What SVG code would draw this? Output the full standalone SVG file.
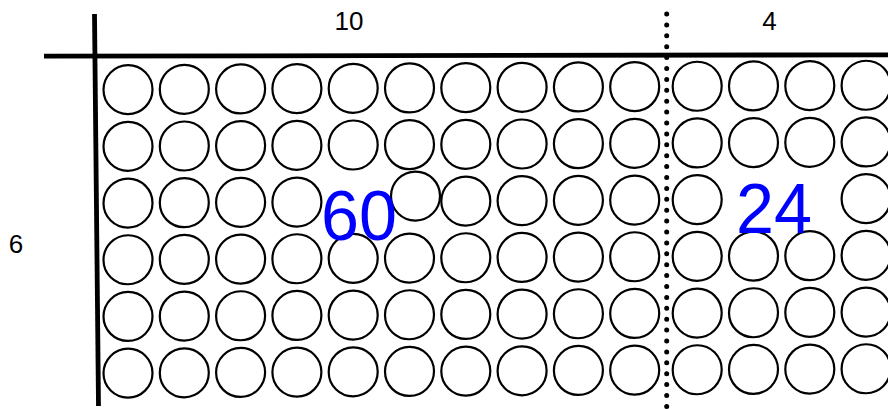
<svg xmlns="http://www.w3.org/2000/svg" width="888" height="409" viewBox="0 0 888 409">
  <style>
    .c { fill: none; stroke: #000; stroke-width: 2.2; }
    .axis { stroke: #000; stroke-width: 4.8; fill: none; }
    .dots { stroke: #000; stroke-width: 5; stroke-linecap: round; stroke-dasharray: 0 10.9; fill: none; }
    .lbl { font-family: "Liberation Sans", Arial, sans-serif; font-size: 26px; fill: #000; text-anchor: middle; }
    .big { font-family: "Liberation Sans", Arial, sans-serif; font-size: 70px; fill: #0000ff; text-anchor: middle; }
  </style>
  <rect width="888" height="409" fill="#fff"/>
  <g id="connectors">
    <line class="axis" x1="44" y1="56.2" x2="888" y2="54.8"/>
    <line class="axis" x1="94.5" y1="14" x2="98.5" y2="406"/>
    <line class="dots" x1="666.7" y1="14" x2="666.7" y2="410"/>
  </g>
  <g id="grid" transform="skewY(-0.34)">
    <g id="row1">
      <circle class="c" cx="128" cy="90.4" r="24.5"/><circle class="c" cx="184.3" cy="90.4" r="24.5"/><circle class="c" cx="240.6" cy="90.4" r="24.5"/><circle class="c" cx="296.9" cy="90.4" r="24.5"/><circle class="c" cx="353.2" cy="90.4" r="24.5"/><circle class="c" cx="409.5" cy="90.4" r="24.5"/><circle class="c" cx="465.8" cy="90.4" r="24.5"/><circle class="c" cx="522.1" cy="90.4" r="24.5"/><circle class="c" cx="578.4" cy="90.4" r="24.5"/><circle class="c" cx="634.7" cy="90.4" r="24.5"/>
      <circle class="c" cx="697.2" cy="90.4" r="24.5"/><circle class="c" cx="753.5" cy="90.4" r="24.5"/><circle class="c" cx="809.8" cy="90.4" r="24.5"/><circle class="c" cx="866.1" cy="90.4" r="24.5"/>
    </g>
    <g id="row2">
      <circle class="c" cx="128" cy="147.1" r="24.5"/><circle class="c" cx="184.3" cy="147.1" r="24.5"/><circle class="c" cx="240.6" cy="147.1" r="24.5"/><circle class="c" cx="296.9" cy="147.1" r="24.5"/><circle class="c" cx="353.2" cy="147.1" r="24.5"/><circle class="c" cx="409.5" cy="147.1" r="24.5"/><circle class="c" cx="465.8" cy="147.1" r="24.5"/><circle class="c" cx="522.1" cy="147.1" r="24.5"/><circle class="c" cx="578.4" cy="147.1" r="24.5"/><circle class="c" cx="634.7" cy="147.1" r="24.5"/>
      <circle class="c" cx="697.2" cy="147.1" r="24.5"/><circle class="c" cx="753.5" cy="147.1" r="24.5"/><circle class="c" cx="809.8" cy="147.1" r="24.5"/><circle class="c" cx="866.1" cy="147.1" r="24.5"/>
    </g>
    <g id="row3">
      <circle class="c" cx="128" cy="203.8" r="24.5"/><circle class="c" cx="184.3" cy="203.8" r="24.5"/><circle class="c" cx="240.6" cy="203.8" r="24.5"/><circle class="c" cx="296.9" cy="203.8" r="24.5"/><circle class="c" cx="415.5" cy="198.5" r="24.5"/><circle class="c" cx="465.8" cy="203.8" r="24.5"/><circle class="c" cx="522.1" cy="203.8" r="24.5"/><circle class="c" cx="578.4" cy="203.8" r="24.5"/><circle class="c" cx="634.7" cy="203.8" r="24.5"/>
      <circle class="c" cx="697.2" cy="203.8" r="24.5"/><circle class="c" cx="866.1" cy="203.8" r="24.5"/>
    </g>
    <g id="row4">
      <circle class="c" cx="128" cy="260.5" r="24.5"/><circle class="c" cx="184.3" cy="260.5" r="24.5"/><circle class="c" cx="240.6" cy="260.5" r="24.5"/><circle class="c" cx="296.9" cy="260.5" r="24.5"/><circle class="c" cx="353.2" cy="260.5" r="24.5"/><circle class="c" cx="409.5" cy="260.5" r="24.5"/><circle class="c" cx="465.8" cy="260.5" r="24.5"/><circle class="c" cx="522.1" cy="260.5" r="24.5"/><circle class="c" cx="578.4" cy="260.5" r="24.5"/><circle class="c" cx="634.7" cy="260.5" r="24.5"/>
      <circle class="c" cx="697.2" cy="260.5" r="24.5"/><circle class="c" cx="753.5" cy="260.5" r="24.5"/><circle class="c" cx="809.8" cy="260.5" r="24.5"/><circle class="c" cx="866.1" cy="260.5" r="24.5"/>
    </g>
    <g id="row5">
      <circle class="c" cx="128" cy="317.2" r="24.5"/><circle class="c" cx="184.3" cy="317.2" r="24.5"/><circle class="c" cx="240.6" cy="317.2" r="24.5"/><circle class="c" cx="296.9" cy="317.2" r="24.5"/><circle class="c" cx="353.2" cy="317.2" r="24.5"/><circle class="c" cx="409.5" cy="317.2" r="24.5"/><circle class="c" cx="465.8" cy="317.2" r="24.5"/><circle class="c" cx="522.1" cy="317.2" r="24.5"/><circle class="c" cx="578.4" cy="317.2" r="24.5"/><circle class="c" cx="634.7" cy="317.2" r="24.5"/>
      <circle class="c" cx="697.2" cy="317.2" r="24.5"/><circle class="c" cx="753.5" cy="317.2" r="24.5"/><circle class="c" cx="809.8" cy="317.2" r="24.5"/><circle class="c" cx="866.1" cy="317.2" r="24.5"/>
    </g>
    <g id="row6">
      <circle class="c" cx="128" cy="373.9" r="24.5"/><circle class="c" cx="184.3" cy="373.9" r="24.5"/><circle class="c" cx="240.6" cy="373.9" r="24.5"/><circle class="c" cx="296.9" cy="373.9" r="24.5"/><circle class="c" cx="353.2" cy="373.9" r="24.5"/><circle class="c" cx="409.5" cy="373.9" r="24.5"/><circle class="c" cx="465.8" cy="373.9" r="24.5"/><circle class="c" cx="522.1" cy="373.9" r="24.5"/><circle class="c" cx="578.4" cy="373.9" r="24.5"/><circle class="c" cx="634.7" cy="373.9" r="24.5"/>
      <circle class="c" cx="697.2" cy="373.9" r="24.5"/><circle class="c" cx="753.5" cy="373.9" r="24.5"/><circle class="c" cx="809.8" cy="373.9" r="24.5"/><circle class="c" cx="866.1" cy="373.9" r="24.5"/>
    </g>
  </g>
  <g id="label-10"><text class="lbl" x="349" y="30">10</text></g>
  <g id="label-4"><text class="lbl" x="769.5" y="30">4</text></g>
  <g id="label-6"><text class="lbl" x="16" y="253">6</text></g>
  <g id="label-60"><text class="big" x="359" y="240" textLength="76" lengthAdjust="spacingAndGlyphs">60</text></g>
  <g id="label-24"><text class="big" x="774" y="233" font-size="63" textLength="76" lengthAdjust="spacingAndGlyphs">24</text></g>
</svg>
